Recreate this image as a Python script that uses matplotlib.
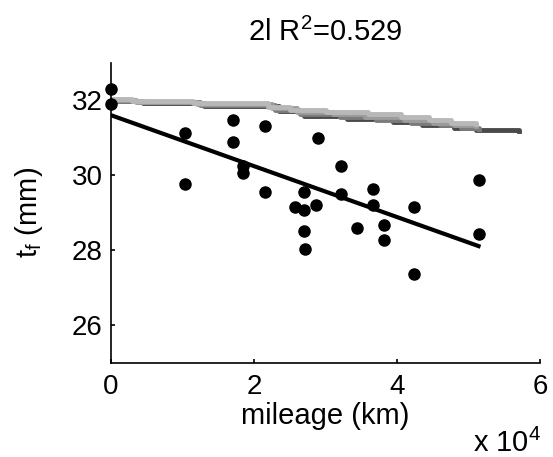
import numpy as np
import matplotlib
matplotlib.use('Agg')
import matplotlib.pyplot as plt

plt.rcParams['font.family'] = ['Liberation Sans', 'DejaVu Sans']
plt.rcParams['mathtext.default'] = 'regular'

# measured points (mileage in 1e4 km, thickness in mm)
mileage = [0.0, 0.0, 1.03, 1.71, 1.71, 2.15, 2.90, 1.84, 1.84, 1.03,
           2.15, 2.70, 2.57, 2.70, 2.87, 2.70, 2.71, 3.21, 3.21, 3.66,
           3.66, 3.44, 3.82, 3.82, 4.24, 4.24, 5.14, 5.14]
thick = [32.29, 31.91, 31.12, 31.48, 30.88, 31.30, 30.99, 30.25, 30.05, 29.76,
         29.56, 29.56, 29.15, 29.07, 29.20, 28.52, 28.03, 30.25, 29.51, 29.64,
         29.20, 28.59, 28.66, 28.28, 29.15, 27.36, 29.88, 28.42]

# regression line end points
fit_x = [0.0, 5.14]
fit_y = [31.60, 28.11]

# grey step curves (model predictions)
curve_x = [
    [0, 0.3, 1.15, 2.2, 2.5, 3.0, 3.6, 4.05, 4.45, 4.75, 5.1],
    [0, 0.35, 1.2, 2.25, 2.6, 3.1, 3.55, 4.1, 4.5, 4.8, 5.1],
    [0, 0.4, 1.25, 2.3, 2.65, 3.2, 3.7, 4.2, 4.6, 4.9, 5.15],
    [0, 0.45, 1.3, 2.35, 2.7, 3.3, 3.95, 4.35, 4.8, 5.1, 5.7],
]
curve_y = [
    [32.03, 31.98, 31.93, 31.82, 31.74, 31.68, 31.62, 31.55, 31.47, 31.40, 31.36],
    [32.01, 31.96, 31.90, 31.78, 31.68, 31.62, 31.55, 31.47, 31.40, 31.33, 31.30],
    [31.99, 31.94, 31.87, 31.74, 31.62, 31.55, 31.48, 31.40, 31.33, 31.26, 31.24],
    [31.98, 31.92, 31.85, 31.71, 31.58, 31.50, 31.42, 31.33, 31.27, 31.21, 31.17],
]
curve_col = ['#b8b8b8', '#9c9c9c', '#7c7c7c', '#4a4a4a']

fig = plt.figure(figsize=(5.53, 4.57), dpi=100, facecolor='w')
ax = fig.add_axes([111/553, 1-362.7/457, 429/553, 300/457])

for cx, cy, cc in list(zip(curve_x, curve_y, curve_col))[::-1]:
    ax.plot(cx, cy, drawstyle='steps-post', color=cc, lw=3.5)

ax.plot(fit_x, fit_y, color='k', lw=3)
ax.plot(mileage, thick, 'o', color='k', ms=8, clip_on=False)

ax.set_xlim(0, 6)
ax.set_ylim(25, 33)
ax.set_xticks([0, 2, 4, 6])
ax.set_yticks([26, 28, 30, 32])
for s in ['top', 'right']:
    ax.spines[s].set_visible(False)
for s in ['left', 'bottom']:
    ax.spines[s].set_linewidth(1.2)
ax.tick_params(direction='in', length=3, width=1.2, labelsize=20)
ax.tick_params(axis='x', pad=8)
ax.tick_params(axis='y', pad=6)

ax.set_title('2l R$^{2}$=0.529', fontsize=21, pad=15.5)
ax.set_xlabel('mileage (km)', fontsize=21)
ax.xaxis.set_label_coords(0.5, -0.13)
ax.set_ylabel('t$_{f}$ (mm)', fontsize=21)
ax.yaxis.set_label_coords(-0.155, 0.5)
fig.text(541/553, 1-452/457, 'x 10$^{4}$', fontsize=21, va='baseline', ha='right')

fig.savefig('out.png', dpi=100)
